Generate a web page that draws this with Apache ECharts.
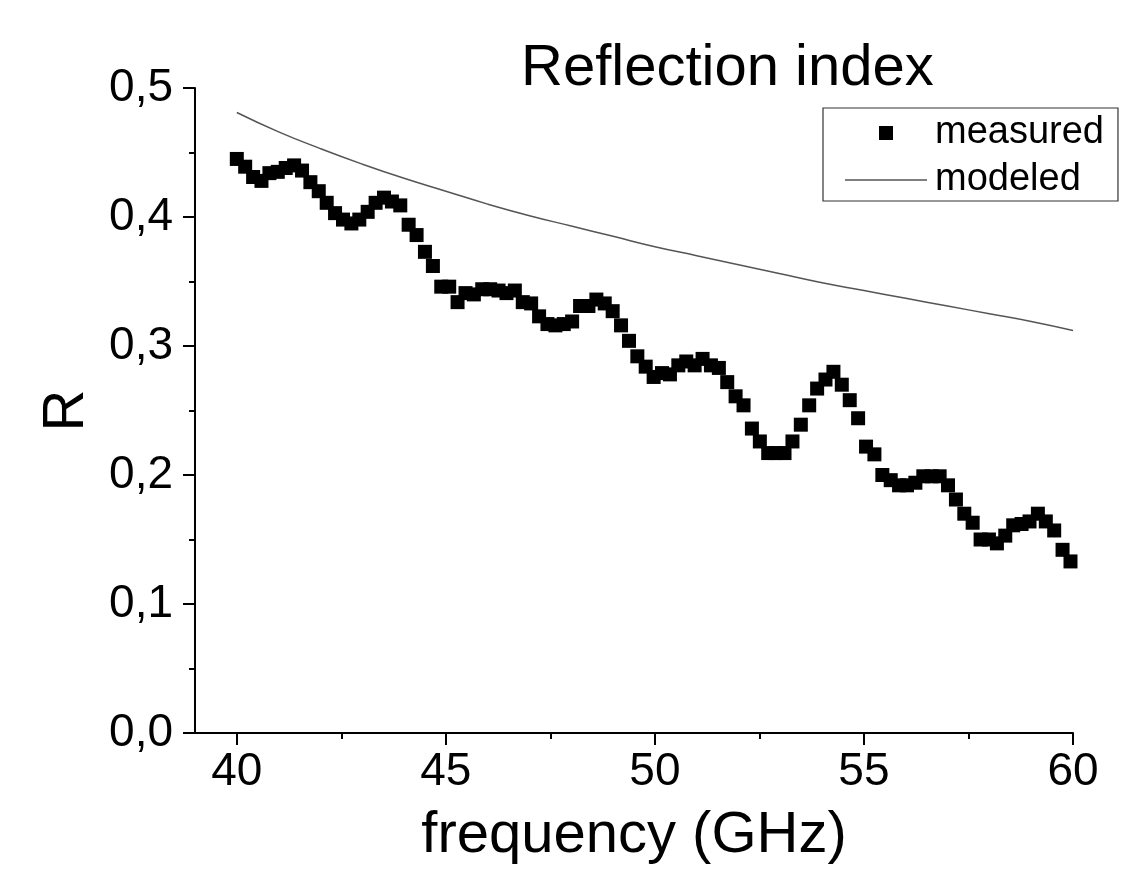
<!DOCTYPE html>
<html>
<head>
<meta charset="utf-8">
<script src="https://cdn.jsdelivr.net/npm/echarts@6/dist/echarts.min.js"></script>
<style>
  html, body { margin: 0; padding: 0; background: #fff; }
  #chart { width: 1139px; height: 870px; }
</style>
</head>
<body>
<div id="chart"></div>
<script>
// frequency (GHz) of each measured point
const freq = [
  40.00, 40.20, 40.39, 40.59, 40.78, 40.98, 41.17, 41.37, 41.56, 41.76,
  41.96, 42.15, 42.35, 42.54, 42.74, 42.93, 43.13, 43.32, 43.52, 43.71,
  43.91, 44.11, 44.30, 44.50, 44.69, 44.89, 45.08, 45.28, 45.47, 45.67,
  45.87, 46.06, 46.26, 46.45, 46.65, 46.84, 47.04, 47.23, 47.43, 47.62,
  47.82, 48.02, 48.21, 48.41, 48.60, 48.80, 48.99, 49.19, 49.38, 49.58,
  49.78, 49.97, 50.17, 50.36, 50.56, 50.75, 50.95, 51.14, 51.34, 51.53,
  51.73, 51.93, 52.12, 52.32, 52.51, 52.71, 52.90, 53.10, 53.29, 53.49,
  53.69, 53.88, 54.08, 54.27, 54.47, 54.66, 54.86, 55.05, 55.25, 55.44,
  55.64, 55.84, 56.03, 56.23, 56.42, 56.62, 56.81, 57.01, 57.20, 57.40,
  57.60, 57.79, 57.99, 58.18, 58.38, 58.57, 58.77, 58.96, 59.16, 59.35,
  59.55, 59.75, 59.94
]
const measured = [
  0.445, 0.439, 0.431, 0.428, 0.434, 0.435, 0.438, 0.440, 0.436, 0.427,
  0.420, 0.411, 0.403, 0.398, 0.395, 0.398, 0.404, 0.411, 0.415, 0.412,
  0.409, 0.394, 0.386, 0.373, 0.362, 0.346, 0.346, 0.334, 0.341, 0.340,
  0.344, 0.344, 0.343, 0.341, 0.343, 0.334, 0.333, 0.323, 0.317, 0.316,
  0.317, 0.319, 0.331, 0.331, 0.336, 0.333, 0.327, 0.316, 0.304, 0.292,
  0.284, 0.276, 0.279, 0.278, 0.285, 0.288, 0.285, 0.290, 0.285, 0.283,
  0.272, 0.261, 0.254, 0.236, 0.226, 0.217, 0.217, 0.217, 0.226, 0.239,
  0.254, 0.267, 0.274, 0.280, 0.270, 0.258, 0.244, 0.222, 0.216, 0.200,
  0.196, 0.192, 0.192, 0.194, 0.199, 0.199, 0.199, 0.192, 0.181, 0.170,
  0.163, 0.150, 0.150, 0.147, 0.153, 0.161, 0.162, 0.164, 0.170, 0.164,
  0.157, 0.142, 0.133
]

// modeled curve
const modelFreq = [40, 41, 42, 43, 44, 45, 46, 47, 48, 49, 50, 51, 52, 53, 54, 55, 56, 57, 58, 59, 60]
const modeled = [
  0.481, 0.466, 0.453, 0.441, 0.430, 0.420, 0.410, 0.401, 0.393, 0.385,
  0.377, 0.370, 0.363, 0.356, 0.349, 0.343, 0.337, 0.331, 0.325, 0.319, 0.312
]

const xMajor = [40, 45, 50, 55, 60]
const xMinor = [42.5, 47.5, 52.5, 57.5]

const font = 'Liberation Sans, Arial, sans-serif'
const chart = echarts.init(document.getElementById('chart'))

chart.setOption({
  backgroundColor: '#fff',
  animation: false,
  title: {
    text: 'Reflection index',
    left: 516,
    top: 35,
    textStyle: { fontFamily: font, fontSize: 58, fontWeight: 'normal', color: '#000' }
  },
  legend: {
    orient: 'vertical',
    left: 823,
    top: 108,
    padding: [6, 14, 2, 22],
    itemWidth: 82,
    itemHeight: 14,
    itemGap: 9,
    symbolKeepAspect: true,
    borderColor: '#333',
    borderWidth: 1.2,
    textStyle: { fontFamily: font, fontSize: 38, color: '#000', padding: [0, 0, 0, 3] },
    data: [
      { name: 'measured', icon: 'path://M0,0 L14,0 L14,14 L0,14 Z' },
      { name: 'modeled', icon: 'path://M0,0 L82,0 L82,1.5 L0,1.5 Z' }
    ]
  },
  grid: { left: 195, right: 66, top: 88, bottom: 137 },
  graphic: [
    // short overhang of the x axis line left of the y axis
    { type: 'line', shape: { x1: 183, y1: 733, x2: 196, y2: 733 }, style: { stroke: '#000', lineWidth: 2 } }
  ],
  xAxis: [
    {
      type: 'value',
      min: 39,
      max: 60,
      name: 'frequency (GHz)',
      nameLocation: 'middle',
      nameGap: 74,
      nameTextStyle: { fontFamily: font, fontSize: 58, color: '#000' },
      axisLine: { lineStyle: { color: '#000', width: 2 } },
      axisTick: { customValues: xMajor, length: 12, lineStyle: { color: '#000', width: 2 } },
      axisLabel: { customValues: xMajor, margin: 16, fontFamily: font, fontSize: 46, color: '#000' },
      splitLine: { show: false }
    },
    {
      type: 'value',
      min: 39,
      max: 60,
      position: 'bottom',
      axisLine: { show: false },
      axisTick: { customValues: xMinor, length: 6, lineStyle: { color: '#000', width: 2 } },
      axisLabel: { show: false },
      splitLine: { show: false }
    }
  ],
  yAxis: {
    type: 'value',
    min: 0,
    max: 0.5,
    interval: 0.1,
    name: 'R',
    nameLocation: 'middle',
    nameGap: 99,
    nameTextStyle: { fontFamily: font, fontSize: 58, color: '#000' },
    axisLine: { show: true, lineStyle: { color: '#000', width: 2 } },
    axisTick: { show: true, length: 12, lineStyle: { color: '#000', width: 2 } },
    minorTick: { show: true, splitNumber: 2, length: 6, lineStyle: { color: '#000', width: 2 } },
    axisLabel: {
      margin: 22,
      fontFamily: font,
      fontSize: 46,
      color: '#000',
      formatter: v => v.toFixed(1).replace('.', ',')
    },
    splitLine: { show: false }
  },
  series: [
    {
      name: 'measured',
      type: 'scatter',
      symbol: 'rect',
      symbolSize: 14,
      itemStyle: { color: '#000', opacity: 1 },
      data: freq.map((f, i) => [f, measured[i]])
    },
    {
      name: 'modeled',
      type: 'line',
      smooth: true,
      symbol: 'none',
      lineStyle: { color: '#555', width: 1.5 },
      itemStyle: { color: '#555' },
      data: modelFreq.map((f, i) => [f, modeled[i]])
    }
  ]
})
</script>
</body>
</html>
